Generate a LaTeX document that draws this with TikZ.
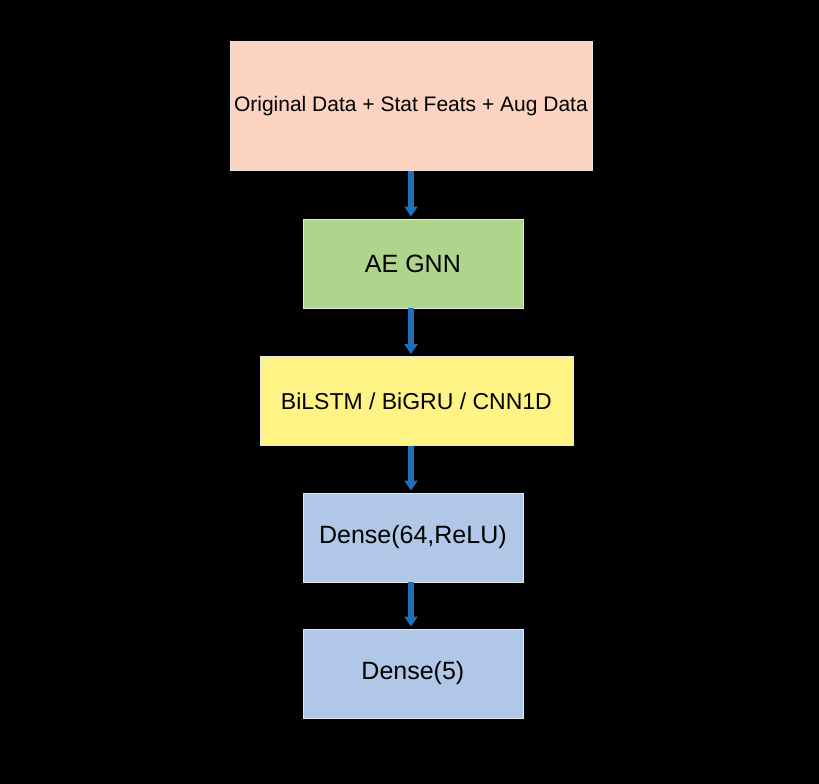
\documentclass[tikz,border=0pt]{standalone}
\usepackage{fontspec}
\setmainfont{Liberation Sans}
\usetikzlibrary{arrows.meta}
\definecolor{peach}{HTML}{FBD3C0}
\definecolor{lgreen}{HTML}{AFD58D}
\definecolor{lyellow}{HTML}{FFF385}
\definecolor{lblue}{HTML}{B1C7E7}
\definecolor{arrblue}{HTML}{1F70B9}
\definecolor{edge}{HTML}{E6E6E6}
\tikzset{
  box/.style={draw=edge, line width=0.8pt, inner sep=0pt, anchor=north west},
  flow/.style={draw=arrblue, line width=5.5pt, -{Triangle[width=13pt,length=10pt]}, shorten >=2pt}
}
\begin{document}
\begin{tikzpicture}[x=1pt,y=-1pt]
\fill[black] (0,0) rectangle (819,784);
\useasboundingbox (0,0) rectangle (819,784);
\node[box, fill=peach, minimum width=362pt, minimum height=129pt] (a) at (229.5,41) {};
\node[font=\fontsize{21}{25}\selectfont] at (a.center) {Original Data + Stat Feats + Aug Data};
\node[box, fill=lgreen, minimum width=220pt, minimum height=89pt] (b) at (302.5,218.5) {};
\node[font=\fontsize{25}{30}\selectfont] at (b.center) {AE GNN};
\node[box, fill=lyellow, minimum width=313pt, minimum height=89pt] (c) at (259.5,356) {};
\node[font=\fontsize{23}{28}\selectfont] at (c.center) {BiLSTM / BiGRU / CNN1D};
\node[box, fill=lblue, minimum width=220pt, minimum height=89pt] (d) at (302.5,492.5) {};
\node[font=\fontsize{25}{30}\selectfont] at (d.center) {Dense(64,ReLU)};
\node[box, fill=lblue, minimum width=220pt, minimum height=89pt] (e) at (302.5,628.5) {};
\node[font=\fontsize{25}{30}\selectfont] at (e.center) {Dense(5)};
\draw[flow] (a.south -| 411,0) -- (b.north -| 411,0);
\draw[flow] (b.south -| 411,0) -- (c.north -| 411,0);
\draw[flow] (c.south -| 411,0) -- (d.north -| 411,0);
\draw[flow] (d.south -| 411,0) -- (e.north -| 411,0);
\end{tikzpicture}
\end{document}
